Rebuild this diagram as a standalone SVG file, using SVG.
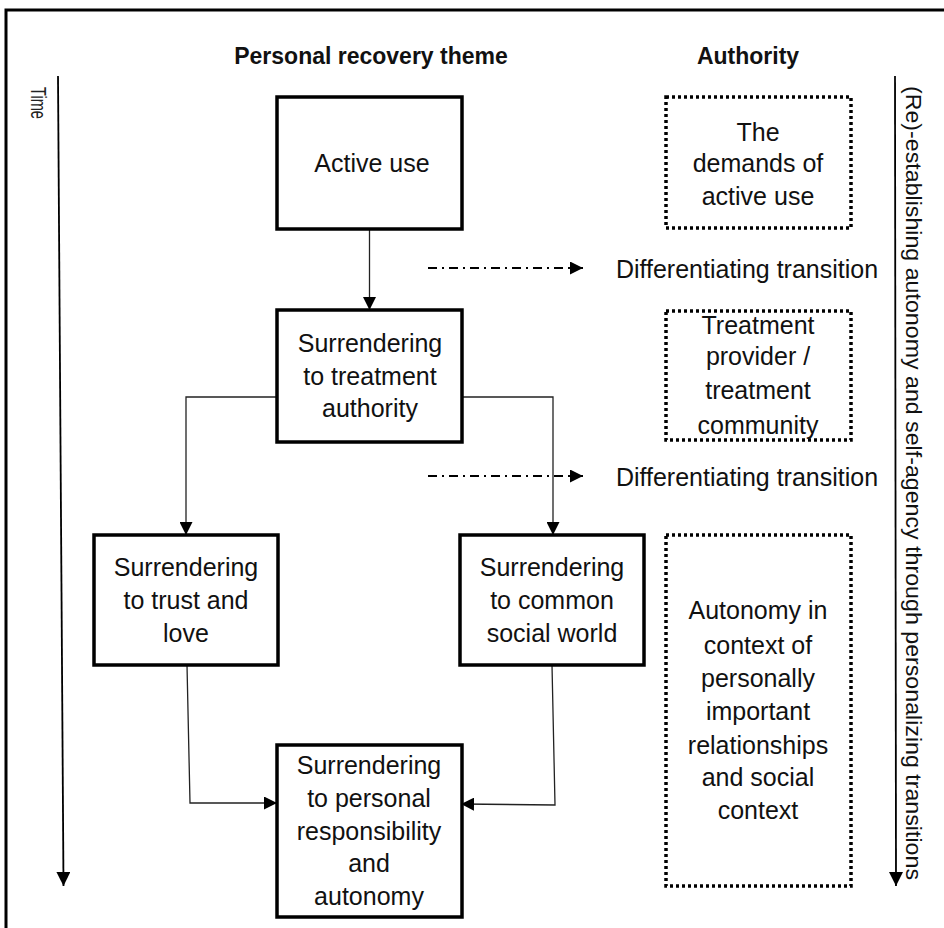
<svg xmlns="http://www.w3.org/2000/svg" width="944" height="928" viewBox="0 0 944 928">
<style>
.t{font-family:"Liberation Sans",Arial,sans-serif;font-size:25px;fill:#111;text-anchor:middle}
.h{font-family:"Liberation Sans",Arial,sans-serif;font-size:23px;font-weight:bold;fill:#111;text-anchor:middle}
.box{fill:#fff;stroke:#000;stroke-width:3.5}
.dot{fill:#fff;stroke:#000;stroke-width:3.5;stroke-dasharray:3,3}
.c{fill:none;stroke:#222;stroke-width:1.3}
.dd{fill:none;stroke:#000;stroke-width:2;stroke-dasharray:9,5,2,5}
.ax{fill:none;stroke:#000;stroke-width:1.8}
</style>
<defs>
<marker id="ar" viewBox="0 0 12 12" refX="12" refY="6" markerWidth="13" markerHeight="13" markerUnits="userSpaceOnUse" orient="auto">
<path d="M0,0 L12,6 L0,12 Z" fill="#000"/>
</marker>
<marker id="ar2" viewBox="0 0 14 14" refX="14" refY="7" markerWidth="14" markerHeight="14" markerUnits="userSpaceOnUse" orient="auto">
<path d="M0,0 L14,7 L0,14 Z" fill="#000"/>
</marker>
</defs>
<rect x="0" y="0" width="944" height="928" fill="#fff"/>
<rect x="6" y="10" width="980" height="960" fill="none" stroke="#000" stroke-width="3"/>

<g id="headers">
<text class="h" x="371" y="64">Personal recovery theme</text>
<text class="h" x="748" y="64">Authority</text>
</g>

<g id="time-axis">
<line class="ax" x1="58" y1="76" x2="63.5" y2="886" marker-end="url(#ar2)"/>
<text transform="translate(31,87) rotate(90)" font-family="'Liberation Sans',Arial,sans-serif" font-size="22" fill="#222" textLength="32" lengthAdjust="spacingAndGlyphs">Time</text>
</g>

<g id="autonomy-axis">
<line class="ax" x1="895" y1="76" x2="896" y2="886" marker-end="url(#ar2)"/>
<text transform="translate(906,86) rotate(90)" font-family="'Liberation Sans',Arial,sans-serif" font-size="22" fill="#111" textLength="794" lengthAdjust="spacingAndGlyphs">(Re)-establishing autonomy and self-agency through personalizing transitions</text>
</g>

<g id="connectors">
<line class="c" x1="369.5" y1="229" x2="369.5" y2="310" marker-end="url(#ar)"/>
<polyline class="c" points="277,397 186,397 186,535" marker-end="url(#ar)"/>
<polyline class="c" points="462,397 553,397 553,535" marker-end="url(#ar)"/>
<polyline class="c" points="187,665 190,803 277,803" marker-end="url(#ar)"/>
<polyline class="c" points="552,665 555,805 461,804" marker-end="url(#ar)"/>
<line class="dd" x1="428" y1="268" x2="583" y2="268" marker-end="url(#ar)"/>
<line class="dd" x1="428" y1="476" x2="583" y2="476" marker-end="url(#ar)"/>
</g>

<g id="n-active-use">
<rect class="box" x="277" y="97" width="185" height="132"/>
<text class="t" x="372" y="172">Active use</text>
</g>

<g id="n-treatment-authority">
<rect class="box" x="277" y="310" width="185" height="132"/>
<text class="t" x="370" y="352">Surrendering</text>
<text class="t" x="370" y="385">to treatment</text>
<text class="t" x="370" y="417">authority</text>
</g>

<g id="n-trust-love">
<rect class="box" x="94" y="535" width="184" height="130"/>
<text class="t" x="186" y="576">Surrendering</text>
<text class="t" x="186" y="609">to trust and</text>
<text class="t" x="186" y="642">love</text>
</g>

<g id="n-common-social">
<rect class="box" x="460" y="535" width="184" height="130"/>
<text class="t" x="552" y="576">Surrendering</text>
<text class="t" x="552" y="609">to common</text>
<text class="t" x="552" y="642">social world</text>
</g>

<g id="n-personal-responsibility">
<rect class="box" x="277" y="745" width="185" height="172"/>
<text class="t" x="369" y="774">Surrendering</text>
<text class="t" x="369" y="807">to personal</text>
<text class="t" x="369" y="840">responsibility</text>
<text class="t" x="369" y="872">and</text>
<text class="t" x="369" y="905">autonomy</text>
</g>

<g id="n-demands">
<rect class="dot" x="666" y="97" width="185" height="131"/>
<text class="t" x="758" y="141">The</text>
<text class="t" x="758" y="172">demands of</text>
<text class="t" x="758" y="205">active use</text>
</g>

<g id="n-treatment-provider">
<rect class="dot" x="666" y="311" width="185" height="129"/>
<text class="t" x="758" y="334">Treatment</text>
<text class="t" x="758" y="365">provider /</text>
<text class="t" x="758" y="399">treatment</text>
<text class="t" x="758" y="434">community</text>
</g>

<g id="n-autonomy-context">
<rect class="dot" x="666" y="535" width="185" height="351"/>
<text class="t" x="758" y="619">Autonomy in</text>
<text class="t" x="758" y="654">context of</text>
<text class="t" x="758" y="687">personally</text>
<text class="t" x="758" y="720">important</text>
<text class="t" x="758" y="754">relationships</text>
<text class="t" x="758" y="786">and social</text>
<text class="t" x="758" y="819">context</text>
</g>

<g id="labels">
<text class="t" x="747" y="278">Differentiating transition</text>
<text class="t" x="747" y="486">Differentiating transition</text>
</g>
</svg>
